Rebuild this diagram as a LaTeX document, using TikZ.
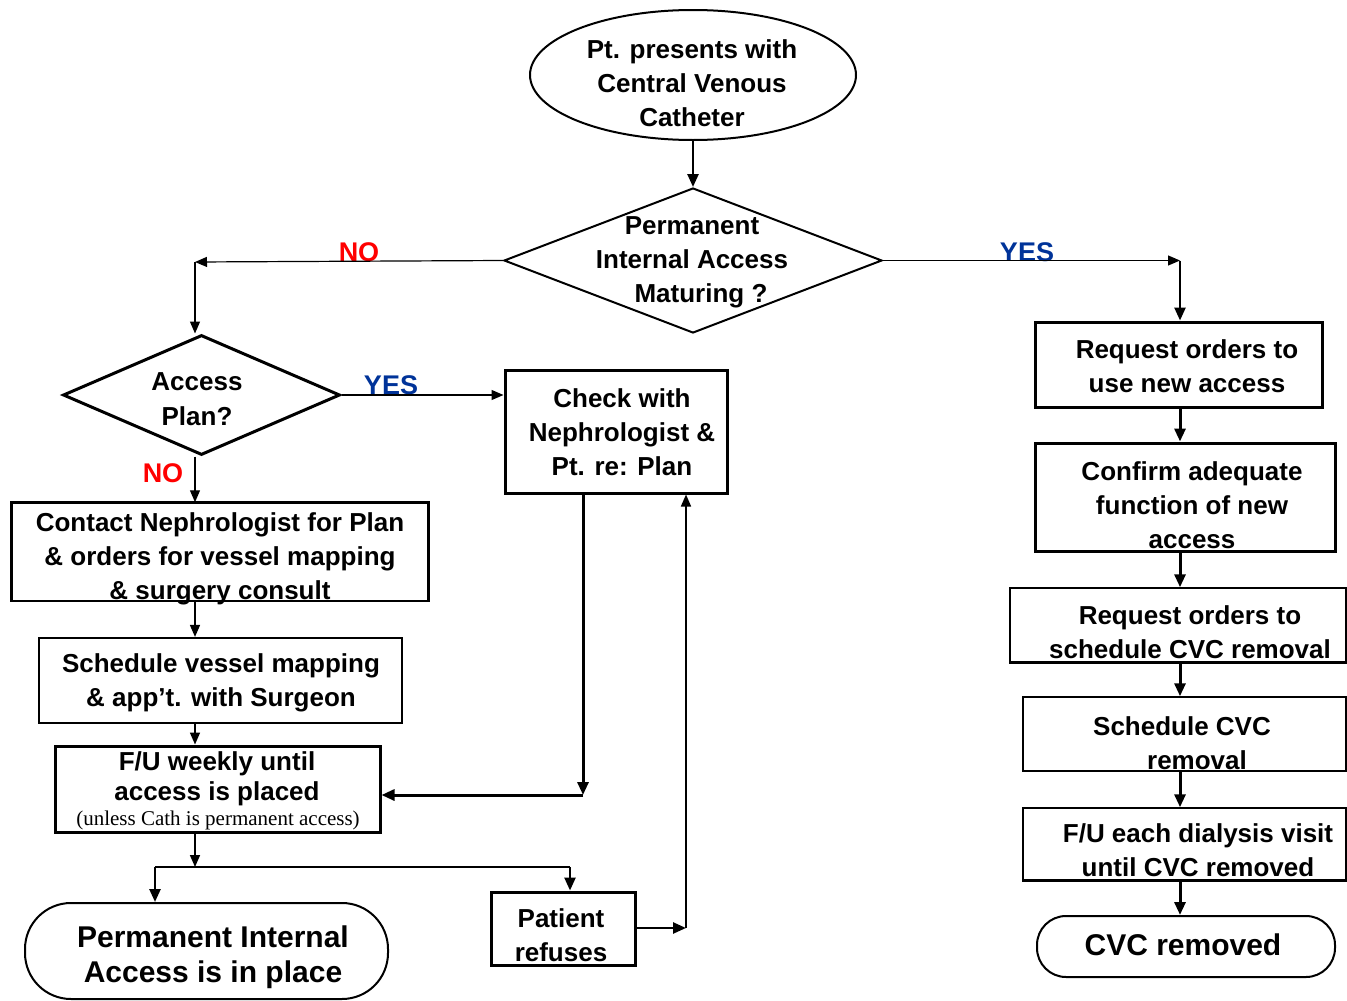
\documentclass[tikz,border=0pt]{standalone}
\usepackage{fontspec}
\setmainfont{Liberation Sans}
\newfontfamily\serifnote{Liberation Serif}
\usetikzlibrary{arrows.meta,shapes.geometric,calc}
\definecolor{noRed}{RGB}{255,0,0}
\definecolor{yesBlue}{RGB}{0,51,153}
\begin{document}
\begin{tikzpicture}[x=1pt,y=-1pt,
  shapebox/.style={draw, rectangle, inner sep=0pt, line width=3pt},
  thinbox/.style={draw, rectangle, inner sep=0pt, line width=1.5pt},
  txt/.style={font=\fontsize{26}{34}\selectfont\bfseries, align=center, inner sep=0pt},
  bigtxt/.style={font=\fontsize{30}{35}\selectfont\bfseries, align=center, inner sep=0pt},
  lbl/.style={font=\fontsize{27}{30}\selectfont\bfseries, inner sep=0pt},
  conn/.style={line width=1.2pt, -{Triangle[length=12pt,width=10pt]}},
  midconn/.style={line width=1.6pt, -{Triangle[length=12pt,width=10pt]}},
  thickconn/.style={line width=3pt, -{Triangle[length=13pt,width=11pt]}},
  plainline/.style={line width=1.2pt}]
\useasboundingbox (0,0) rectangle (1347,1001);

% ---------- shapes ----------
\node[draw, ellipse, inner sep=0pt, line width=2pt, minimum width=326pt, minimum height=130pt] (e1) at (693,75) {};
\node[draw, diamond, inner sep=0pt, line width=2pt, minimum width=378pt, minimum height=145pt] (d1) at (693,260.5) {};
\node[draw, diamond, inner sep=0pt, line width=3pt, minimum width=277pt, minimum height=120pt] (d2) at (201.5,395) {};
\node[thinbox, minimum width=416pt, minimum height=98pt] (contact) at (220,552) {};
\draw[line width=3pt] (contact.south west) -- (contact.north west) -- (contact.north east) -- (contact.south east);
\node[shapebox, line width=2.2pt, minimum width=363pt, minimum height=85pt] (sched) at (220.5,680.5) {};
\node[shapebox, minimum width=325pt, minimum height=86pt] (fu) at (217.5,789) {};
\node[shapebox, minimum width=222pt, minimum height=123pt] (check) at (616,431.5) {};
\node[shapebox, minimum width=144pt, minimum height=73pt] (refuse) at (563,928.5) {};
\node[draw, rectangle, rounded corners=46pt, inner sep=0pt, line width=2pt, minimum width=363pt, minimum height=96pt] (e2) at (206.5,951) {};
\node[shapebox, minimum width=287pt, minimum height=85pt] (R1) at (1178.5,364.5) {};
\node[shapebox, minimum width=300pt, minimum height=108pt] (R2) at (1185,497) {};
\node[thinbox, minimum width=336pt, minimum height=74pt] (R3) at (1178,625) {};
\draw[line width=3pt] (R3.south west) -- (R3.south east);
\node[thinbox, minimum width=323pt, minimum height=74pt] (R4) at (1184.5,734) {};
\node[thinbox, minimum width=323pt, minimum height=72pt] (R5) at (1184.5,844) {};
\draw[line width=3pt] (R5.south west) -- (R5.south east);
\node[draw, rectangle, rounded corners=29pt, inner sep=0pt, line width=2pt, minimum width=298pt, minimum height=61pt] (e3) at (1186,946.5) {};

% ---------- texts ----------
\node[txt] (t-e1) at (692,83) {Pt. presents with\\Central Venous\\Catheter};
\node[txt] (t-d1) at (692,262) {Permanent\\Internal Access\\\hspace*{18pt}Maturing ?};
\node[txt, font=\fontsize{26}{35}\selectfont\bfseries] (t-d2) at (197,399) {Access\\Plan?};
\node[txt] (t-check) at (622,432) {Check with\\Nephrologist \&\\Pt. re: Plan};
\node[txt] (t-contact) at (220,559) {Contact Nephrologist for Plan\\\& orders for vessel mapping\\\& surgery consult};
\node[txt] (t-sched) at (221,683) {Schedule vessel mapping\\\& app’t. with Surgeon};
\node[txt, font=\fontsize{26}{30}\selectfont\bfseries] (t-fu) at (217,779) {F/U weekly until\\access is placed};
\node[inner sep=0pt, font=\serifnote\fontsize{21}{24}\selectfont] (t-fu2) at (218,820) {(unless Cath is permanent access)};
\node[txt] (t-refuse) at (561,935) {Patient\\refuses};
\node[bigtxt] (t-e2) at (213,957) {Permanent Internal\\Access is in place};
\node[txt] (t-R1) at (1187,366) {Request orders to\\use new access};
\node[txt] (t-R2) at (1192,505) {Confirm adequate\\function of new\\access};
\node[txt] (t-R3) at (1190,632) {Request orders to\\schedule CVC removal};
\node[txt] (t-R4) at (1182,743) {Schedule CVC\\\hspace*{30pt}removal};
\node[txt] (t-R5) at (1198,850) {F/U each dialysis visit\\until CVC removed};
\node[bigtxt] (t-e3) at (1183,945) {CVC removed};

% ---------- labels ----------
\node[lbl, text=noRed] (no1) at (359,252) {NO};
\node[lbl, text=yesBlue] (yes1) at (1027,252) {YES};
\node[lbl, text=yesBlue] (yes2) at (391,385) {YES};
\node[lbl, text=noRed] (no2) at (163,473) {NO};

% ---------- connectors ----------
\coordinate (lx) at (195,0);
\coordinate (rx) at (1180,0);
\coordinate (nocorner) at (195,262);
\coordinate (cx) at (583,795);
\coordinate (split) at (195,867);
\coordinate (sl) at (155,867);
\coordinate (sr) at (570,867);
\coordinate (ru) at (686,928);

\draw[thickconn, line width=2.5pt] (e1.south) -- (d1.north);
\draw[conn] (d1.west) -- (nocorner);
\draw[conn] (nocorner) -- (nocorner |- d2.north);
\draw[conn] (d1.east) -- (rx |- d1.east);
\draw[thickconn, line width=2.5pt] (rx |- d1.east) -- (rx |- R1.north);
\draw[conn] (d2.east) -- (check.west |- d2.east);
\draw[conn] (lx |- d2.south) -- (lx |- contact.north);
\draw[midconn] (lx |- contact.south) -- (lx |- sched.north);
\draw[midconn] (lx |- sched.south) -- (lx |- fu.north);
\draw[thickconn] (cx |- check.south) -- (cx);
\draw[thickconn] (cx) -- (fu.east |- cx);
\draw[midconn] (lx |- fu.south) -- (split);
\draw[plainline] (sl) -- (sr);
\draw[thickconn, line width=2.5pt] (sl) -- (sl |- e2.north);
\draw[thickconn, line width=2.5pt] (sr) -- (sr |- refuse.north);
\draw[thickconn, line width=2.5pt] (refuse.east |- ru) -- (ru);
\draw[midconn] (ru) -- (ru |- check.south);
\draw[thickconn] (rx |- R1.south) -- (rx |- R2.north);
\draw[thickconn] (rx |- R2.south) -- (rx |- R3.north);
\draw[thickconn] (rx |- R3.south) -- (rx |- R4.north);
\draw[thickconn] (rx |- R4.south) -- (rx |- R5.north);
\draw[thickconn] (rx |- R5.south) -- (rx |- e3.north);
\end{tikzpicture}
\end{document}
